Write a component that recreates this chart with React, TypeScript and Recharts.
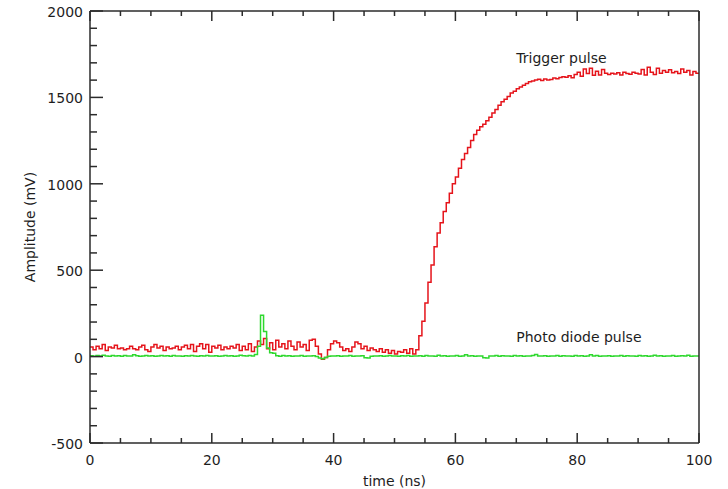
import React from 'react';
import { Line, LineChart, ReferenceDot, XAxis, YAxis } from 'recharts';

// scope trace, one sample every 0.5 ns from 0 to 100 ns
const SAMPLE_STEP_NS = 0.5;

const TRIGGER_MV = [
  55, 40, 60, 45, 70, 35, 55, 50, 65, 45,
  50, 40, 45, 60, 45, 40, 55, 65, 40, 30,
  55, 70, 50, 60, 35, 55, 45, 50, 60, 40,
  55, 65, 45, 70, 30, 60, 75, 45, 70, 25,
  60, 50, 65, 40, 55, 45, 60, 50, 70, 35,
  60, 40, 75, 30, 55, 90, 70, 105, 45, 80,
  40, 95, 55, 75, 45, 90, 60, 40, 85, 55,
  70, 35, 95, 100, 60, 15, -15, -5, 40, 75,
  90, 80, 55, 35, 45, 30, 55, 85, 75, 45,
  60, 35, 50, 40, 30, 45, 25, 40, 20, 35,
  15, 30, 25, 40, 20, 45, 15, 40, 120, 205,
  310, 430, 530, 635, 715, 775, 840, 890, 945, 1000,
  1040, 1090, 1140, 1175, 1210, 1250, 1285, 1310, 1330, 1345,
  1365, 1385, 1410, 1430, 1455, 1475, 1490, 1505, 1525, 1535,
  1550, 1560, 1570, 1580, 1590, 1595, 1600, 1605, 1598, 1606,
  1600, 1603, 1612, 1608, 1615, 1620, 1616, 1626, 1614, 1632,
  1645, 1622, 1665, 1638, 1668, 1628, 1652, 1630, 1662, 1640,
  1632, 1640, 1635, 1642, 1630, 1645, 1638, 1634, 1646, 1640,
  1636, 1662, 1630, 1675, 1645, 1632, 1668, 1640, 1655, 1645,
  1660, 1642, 1650, 1638, 1665, 1645, 1655, 1630, 1650, 1640,
  1640
];

const PHOTODIODE_MV = [
  5, 2, 6, 3, 8, 4, 2, 6, 3, 5,
  2, 7, 4, 3, 10, 5, 2, 4, 6, 3,
  5, 2, 4, 7, 3, 5, 2, 6, 4, 3,
  2, 5, 3, 6, 4, 2, 5, 3, 7, 4,
  3, 5, 2, 4, 6, 3, 5, 2, 4, 8,
  5, 3, 6, 4, 12, 60, 240, 145, 50, 22,
  20, 5, 2, 6, 3, 5, 2, 4, 3, 6,
  2, 4, 3, 5, 0, -8, -12, -5, 2, 4,
  3, 5, 2, 4, 3, 6, 2, 4, 3, 5,
  -6, -8, 2, 4, 3, 5, 2, 4, 6, 3,
  4, 2, 5, 3, 6, 2, 4, 3, 5, 2,
  6, 3, 4, 2, 8, 3, 5, 2, 4, 3,
  6, 2, 4, 10, 3, 5, 2, 4, 3, -6,
  -8, 4, 3, 6, 2, 5, 3, 4, 2, 6,
  3, 5, 2, 4, 3, 6, 12, 4, 3, 5,
  2, 4, 3, 6, 2, 5, 3, 4, 2, 6,
  3, 5, 2, 4, 10, 3, 6, 2, 4, 3,
  5, 2, 4, 3, 6, 2, 5, 3, 4, 2,
  6, 3, 5, 2, 4, 8, 3, 5, 2, 4,
  3, 6, 2, 4, 5, 3, 8, 2, 4, 3,
  4
];

const X_TICKS = [0, 5, 10, 15, 20, 25, 30, 35, 40, 45, 50, 55, 60, 65, 70, 75, 80, 85, 90, 95, 100];
const X_MAJOR = [0, 20, 40, 60, 80, 100];
const Y_TICKS = [
  -500, -400, -300, -200, -100, 0, 100, 200, 300, 400, 500, 600, 700, 800, 900, 1000,
  1100, 1200, 1300, 1400, 1500, 1600, 1700, 1800, 1900, 2000
];
const Y_MAJOR = [-500, 0, 500, 1000, 1500, 2000];

const data = TRIGGER_MV.map((mv, i) => ({
  t: i * SAMPLE_STEP_NS,
  trigger: mv,
  diode: PHOTODIODE_MV[i]
}));

const CHART_W = 728;
const CHART_H = 489;
const MARGIN = { top: 10, right: 28, bottom: 0, left: 0 };
const Y_AXIS_W = 90;
const X_AXIS_H = 46;
const MIRROR_AXIS_SIZE = 1;
// frame edges, the inward ticks hang off these
const FRAME_LEFT = MARGIN.left + Y_AXIS_W;
const FRAME_RIGHT = CHART_W - MARGIN.right - MIRROR_AXIS_SIZE;
const FRAME_TOP = MARGIN.top + MIRROR_AXIS_SIZE;
const FRAME_BOTTOM = CHART_H - MARGIN.bottom - X_AXIS_H;

const AXIS = '#2b2b2b';
const TEXT = '#1e1e1e';
const FONT = "'DejaVu Sans', Arial, sans-serif";
const FONT_SIZE = 14;

const BottomTick = ({ x, payload }: any) => {
  const major = X_MAJOR.includes(payload.value);
  return (
    <g>
      <line x1={x} y1={FRAME_BOTTOM} x2={x} y2={FRAME_BOTTOM - (major ? 10 : 5)} stroke={AXIS} strokeWidth={1.5} />
      {major ? (
        <text x={x} y={FRAME_BOTTOM + 17} textAnchor="middle" dominantBaseline="central" fill={TEXT} fontSize={FONT_SIZE} fontFamily={FONT}>
          {payload.value}
        </text>
      ) : null}
    </g>
  );
};

const TopTick = ({ x, payload }: any) => {
  const major = X_MAJOR.includes(payload.value);
  return <line x1={x} y1={FRAME_TOP} x2={x} y2={FRAME_TOP + (major ? 10 : 5)} stroke={AXIS} strokeWidth={1.5} />;
};

const LeftTick = ({ y, payload }: any) => {
  const major = Y_MAJOR.includes(payload.value);
  return (
    <g>
      <line x1={FRAME_LEFT} y1={y} x2={FRAME_LEFT + (major ? 13 : 7)} y2={y} stroke={AXIS} strokeWidth={1.5} />
      {major ? (
        <text x={FRAME_LEFT - 7} y={y + 1} textAnchor="end" dominantBaseline="central" fill={TEXT} fontSize={FONT_SIZE} fontFamily={FONT}>
          {payload.value}
        </text>
      ) : null}
    </g>
  );
};

const RightTick = ({ y, payload }: any) => {
  const major = Y_MAJOR.includes(payload.value);
  return <line x1={FRAME_RIGHT} y1={y} x2={FRAME_RIGHT - (major ? 13 : 7)} y2={y} stroke={AXIS} strokeWidth={1.5} />;
};

const textLabel = (value: string) => ({
  value,
  position: 'right' as const,
  offset: 0,
  fill: TEXT,
  fontSize: FONT_SIZE,
  fontFamily: FONT
});

const App: React.FC = () => (
  <div style={{ position: 'absolute', left: 0, top: 0, width: CHART_W, height: CHART_H, background: '#fff' }}>
    <LineChart width={CHART_W} height={CHART_H} data={data} margin={MARGIN} style={{ fontFamily: FONT }}>
      <XAxis
        dataKey="t"
        type="number"
        domain={[0, 100]}
        ticks={X_TICKS}
        interval={0}
        height={X_AXIS_H}
        tickLine={false}
        tick={<BottomTick />}
        axisLine={{ stroke: AXIS, strokeWidth: 1.5 }}
        allowDataOverflow
        label={{ value: 'time (ns)', position: 'insideBottom', offset: 3, fill: TEXT, fontSize: FONT_SIZE, fontFamily: FONT }}
      />
      <XAxis
        xAxisId="top"
        orientation="top"
        dataKey="t"
        type="number"
        domain={[0, 100]}
        ticks={X_TICKS}
        interval={0}
        height={MIRROR_AXIS_SIZE}
        tickLine={false}
        tick={<TopTick />}
        axisLine={{ stroke: AXIS, strokeWidth: 1.5 }}
      />
      <YAxis
        type="number"
        domain={[-500, 2000]}
        ticks={Y_TICKS}
        interval={0}
        width={Y_AXIS_W}
        tickLine={false}
        tick={<LeftTick />}
        axisLine={{ stroke: AXIS, strokeWidth: 1.5 }}
        allowDataOverflow
        label={{
          value: 'Amplitude (mV)',
          angle: -90,
          position: 'insideLeft',
          offset: 30,
          style: { textAnchor: 'middle' },
          fill: TEXT,
          fontSize: FONT_SIZE,
          fontFamily: FONT
        }}
      />
      <YAxis
        yAxisId="right"
        orientation="right"
        type="number"
        domain={[-500, 2000]}
        ticks={Y_TICKS}
        interval={0}
        width={MIRROR_AXIS_SIZE}
        tickLine={false}
        tick={<RightTick />}
        axisLine={{ stroke: AXIS, strokeWidth: 1.5 }}
      />
      <Line type="stepAfter" dataKey="trigger" stroke="#e5141b" strokeWidth={1.5} dot={false} isAnimationActive={false} />
      <Line type="stepAfter" dataKey="diode" stroke="#2ed82e" strokeWidth={1.5} dot={false} isAnimationActive={false} />
      <ReferenceDot x={70} y={1728} r={0} fill="none" stroke="none" label={textLabel('Trigger pulse')} />
      <ReferenceDot x={70} y={113} r={0} fill="none" stroke="none" label={textLabel('Photo diode pulse')} />
    </LineChart>
  </div>
);

export default App;
